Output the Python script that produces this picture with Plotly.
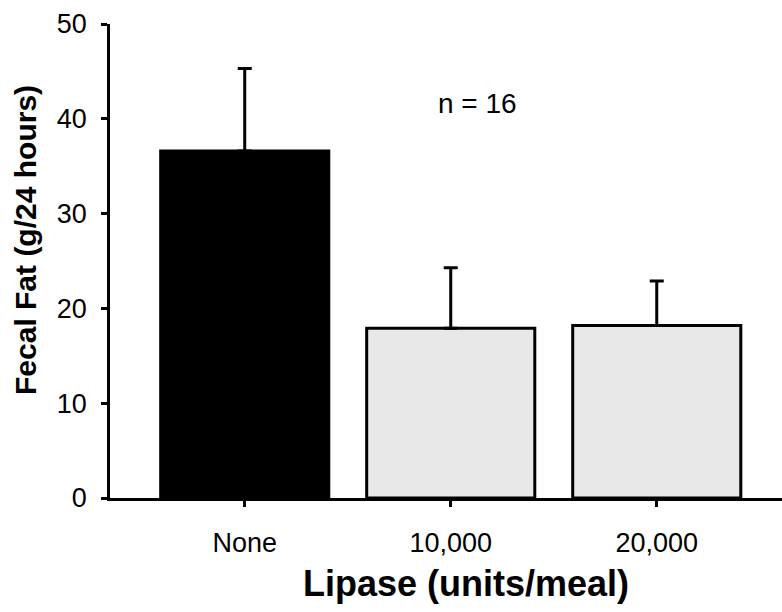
import plotly.graph_objects as go

categories = ["None", "10,000", "20,000"]
values = [36.6, 17.9, 18.2]
err_plus = [8.7, 6.4, 4.7]
colors = ["#000000", "#e8e8e8", "#e8e8e8"]
y_ticks = [0, 10, 20, 30, 40, 50]

font = "Liberation Sans, Arial, sans-serif"

fig = go.Figure()
fig.add_trace(go.Bar(
    x=categories, y=values, width=0.816,
    marker=dict(color=colors, line=dict(color="black", width=3)),
    error_y=dict(type="data", array=err_plus, arrayminus=[0, 0, 0], symmetric=False,
                 color="black", thickness=3, width=7),
))

pw = 782 - 110
ph = 612 - 24 - 114

fig.update_layout(
    width=782, height=612,
    margin=dict(l=110, r=0, t=24, b=114),
    paper_bgcolor="white", plot_bgcolor="white",
    showlegend=False,
    font=dict(family=font, color="black", size=28),
    xaxis=dict(type="category", range=[-0.654, 2.608], showline=True, linecolor="black",
               linewidth=2.5, ticks="outside", ticklen=6, tickwidth=2.5, tickcolor="black",
               tickfont=dict(size=27), showgrid=False, zeroline=False, ticklabelstandoff=13),
    yaxis=dict(range=[0, 50], tickvals=y_ticks, showline=True, linecolor="black",
               linewidth=2.5, ticks="outside", ticklen=6, tickwidth=2.5, tickcolor="black",
               tickfont=dict(size=27), showgrid=False, zeroline=False, ticklabelstandoff=9),
    annotations=[
        dict(text="n = 16", x=1.132, y=41.65, xref="x", yref="y", showarrow=False,
             font=dict(size=28), xanchor="center", yanchor="middle"),
        dict(text="<b>Lipase (units/meal)</b>", x=(466 - 110) / pw, y=(498 - 583) / ph,
             xref="paper", yref="paper", showarrow=False, font=dict(size=36),
             xanchor="center", yanchor="middle"),
        dict(text="<b>Fecal Fat (g/24 hours)</b>", textangle=-90, showarrow=False,
             font=dict(size=30), xref="paper", yref="paper",
             x=(25 - 110) / pw, y=(498 - 240) / ph, xanchor="center", yanchor="middle"),
    ],
)

fig.write_html("out.html")
